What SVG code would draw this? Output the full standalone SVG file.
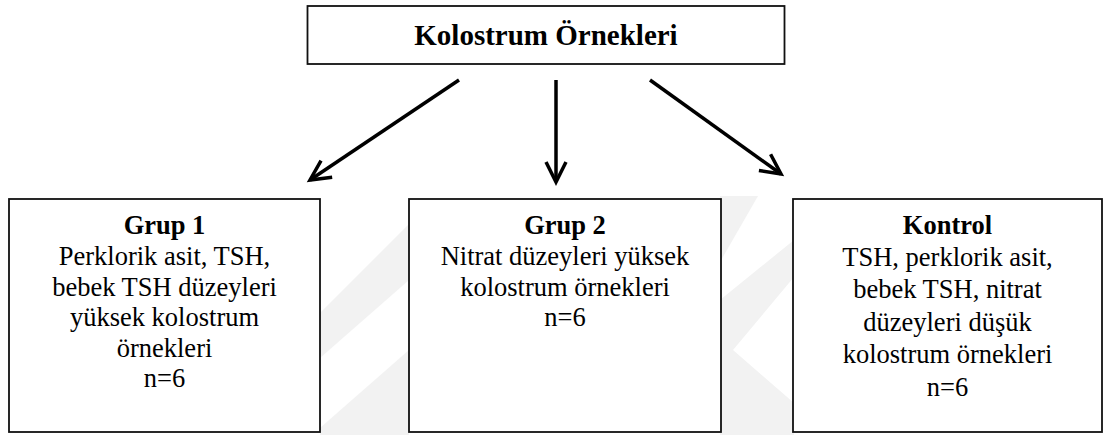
<svg xmlns="http://www.w3.org/2000/svg" width="1105" height="435" viewBox="0 0 1105 435">
<style>
.box{fill:#fff;stroke:#111;stroke-width:1.8}
.t{font-family:"Liberation Serif","Times New Roman",Times,"DejaVu Serif",serif;font-size:26.5px;fill:#000;text-anchor:middle}
.b{font-weight:bold}
.wm{fill:#f2f2f2}
.arr{stroke:#000;stroke-width:3.5;fill:none}
</style>
<defs>
<marker id="ah" markerUnits="userSpaceOnUse" viewBox="-24 -14 28 28" markerWidth="28" markerHeight="28" refX="0" refY="0" orient="auto" overflow="visible">
<path d="M-20,-10 L0,0 L-20,10" fill="none" stroke="#000" stroke-width="3.5" stroke-linejoin="miter"/>
</marker>
</defs>
<g id="watermark">
<polygon class="wm" points="320,313 409,224 409,280 320,358"/>
<polygon class="wm" points="320,428 409,350 409,435 320,435"/>
<polygon class="wm" points="720,196 758,196 720,262"/>
<polygon class="wm" points="720,300 794,240 794,277 733,350 794,403 794,435 720,435"/>
</g>
<g id="connectors">
<line class="arr" x1="459" y1="80" x2="310" y2="180" marker-end="url(#ah)"/>
<line class="arr" x1="556" y1="80" x2="556" y2="182" marker-end="url(#ah)"/>
<line class="arr" x1="650" y1="80" x2="781" y2="174" marker-end="url(#ah)"/>
</g>
<g id="root">
<rect class="box" x="307.5" y="6" width="477" height="58"/>
<text class="t b" x="546" y="45" style="font-size:29px">Kolostrum Örnekleri</text>
</g>
<g id="grup1">
<rect class="box" x="9" y="199" width="311" height="233"/>
<text class="t b" x="164.5" y="234">Grup 1</text>
<text class="t" x="164.5" y="265">Perklorik asit, TSH,</text>
<text class="t" x="164.5" y="295.5">bebek TSH düzeyleri</text>
<text class="t" x="164.5" y="326">yüksek kolostrum</text>
<text class="t" x="164.5" y="356.5">örnekleri</text>
<text class="t" x="164.5" y="387">n=6</text>
</g>
<g id="grup2">
<rect class="box" x="409" y="199" width="312" height="233"/>
<text class="t b" x="565" y="234">Grup 2</text>
<text class="t" x="565" y="265">Nitrat düzeyleri yüksek</text>
<text class="t" x="565" y="295.5">kolostrum örnekleri</text>
<text class="t" x="565" y="326">n=6</text>
</g>
<g id="kontrol">
<rect class="box" x="793" y="199" width="309" height="233"/>
<text class="t b" x="947.5" y="234">Kontrol</text>
<text class="t" x="947.5" y="265.5">TSH, perklorik asit,</text>
<text class="t" x="947.5" y="298">bebek TSH, nitrat</text>
<text class="t" x="947.5" y="330.5">düzeyleri düşük</text>
<text class="t" x="947.5" y="363">kolostrum örnekleri</text>
<text class="t" x="947.5" y="396">n=6</text>
</g>
</svg>
